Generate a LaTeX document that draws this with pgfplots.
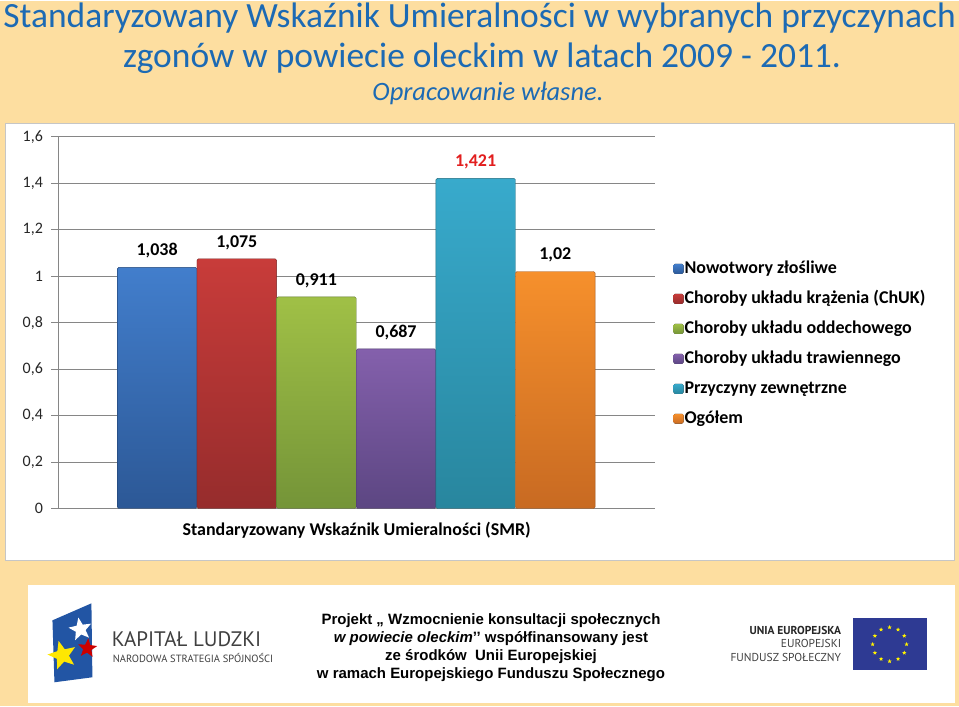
\documentclass[border=0pt]{standalone}
\usepackage{pgfplots}
\pgfplotsset{compat=1.18}
\usepackage{fontspec}
\setmainfont{Carlito}
\newfontfamily\arial{Liberation Sans}
\newfontfamily\opensans{PT Sans}
\usetikzlibrary{shapes.geometric}

\definecolor{bg}{RGB}{253,222,160}
\definecolor{titleblue}{RGB}{28,106,180}
\definecolor{gridgray}{RGB}{134,134,134}
\definecolor{b1t}{RGB}{66,126,204}\definecolor{b1b}{RGB}{44,88,150}
\definecolor{b2t}{RGB}{200,60,58}\definecolor{b2b}{RGB}{150,44,44}
\definecolor{b3t}{RGB}{160,192,70}\definecolor{b3b}{RGB}{116,148,56}
\definecolor{b4t}{RGB}{132,96,172}\definecolor{b4b}{RGB}{92,70,130}
\definecolor{b5t}{RGB}{56,170,204}\definecolor{b5b}{RGB}{40,134,158}
\definecolor{b6t}{RGB}{246,144,44}\definecolor{b6b}{RGB}{200,106,34}
\definecolor{eublue}{RGB}{46,58,147}
\definecolor{klblue}{RGB}{34,85,164}
\definecolor{labelred}{RGB}{226,30,30}

\begin{document}
\begin{tikzpicture}[x=1pt,y=1pt]
% background and panels
\fill[bg] (0,0) rectangle (959,706);
\fill[white,draw=gray!45] (5,146) rectangle (955,584);
\fill[white] (28,3) rectangle (955,121);

% title
\node[anchor=base,text=titleblue,font=\fontsize{35.5}{35.5}\selectfont] at (479.5,679)
  {Standaryzowany Wskaźnik Umieralności w wybranych przyczynach};
\node[anchor=base,text=titleblue,font=\fontsize{35.5}{35.5}\selectfont] at (482,639)
  {zgonów w powiecie oleckim w latach 2009 - 2011.};
\node[anchor=base,text=titleblue,font=\itshape\fontsize{26.5}{26.5}\selectfont] at (488,606)
  {Opracowanie własne.};

\begin{axis}[
  at={(58pt,198pt)}, anchor=south west,
  scale only axis, width=597pt, height=372pt,
  xmin=-0.24, xmax=7.25, ymin=0, ymax=1.6,
  axis x line*=bottom, axis y line*=left,
  axis line style={draw=gridgray, line width=0.7pt, -},
  ymajorgrids, grid style={gridgray, line width=0.7pt},
  xtick=\empty,
  ytick={0,0.2,0.4,0.6,0.8,1,1.2,1.4,1.6},
  tick align=outside, major tick length=7pt,
  ytick style={gridgray, line width=0.7pt},
  yticklabel style={font=\fontsize{16}{16}\selectfont, text=black!85, xshift=-5pt},
  /pgf/number format/use comma,
  /pgf/number format/fixed,
  /pgf/number format/precision=3,
  /pgf/number format/assume math mode=true,
  ybar, bar width=79.7pt, bar shift=0pt,
  nodes near coords,
  every node near coord/.append style={font=\bfseries\fontsize{18}{18}\selectfont,
    text=black, inner sep=2pt, yshift=7pt},
  xlabel={\bfseries Standaryzowany Wskaźnik Umieralności (SMR)},
  xlabel style={font=\fontsize{18}{18}\selectfont, yshift=-3pt},
  legend image code/.code={\fill[#1,draw=none] (0pt,-5pt) rectangle (10pt,5pt);},
  legend style={at={(axis description cs:1.031,0.668)}, anchor=north west,
    draw=none, fill=none, font=\bfseries\fontsize{18}{18}\selectfont,
    row sep=13pt, inner sep=0pt,
    nodes={text height=12pt, text depth=3pt, inner sep=1pt},
    /tikz/every even column/.style={column sep=2pt}},
  legend cell align=left,
]
\addplot[draw=b1b!80!black, top color=b1t, bottom color=b1b, rounded corners=1.5pt] coordinates {(1,1.038)};
\addlegendentry{Nowotwory złośliwe}
\addplot[draw=b2b!80!black, top color=b2t, bottom color=b2b, rounded corners=1.5pt] coordinates {(2,1.075)};
\addlegendentry{Choroby układu krążenia (ChUK)}
\addplot[draw=b3b!80!black, top color=b3t, bottom color=b3b, rounded corners=1.5pt] coordinates {(3,0.911)};
\addlegendentry{Choroby układu oddechowego}
\addplot[draw=b4b!80!black, top color=b4t, bottom color=b4b, rounded corners=1.5pt] coordinates {(4,0.687)};
\addlegendentry{Choroby układu trawiennego}
\addplot[draw=b5b!80!black, top color=b5t, bottom color=b5b, rounded corners=1.5pt,
  every node near coord/.append style={text=labelred}] coordinates {(5,1.421)};
\addlegendentry{Przyczyny zewnętrzne}
\addplot[draw=b6b!80!black, top color=b6t, bottom color=b6b, rounded corners=1.5pt] coordinates {(6,1.02)};
\addlegendentry{Ogółem}
\end{axis}

% footer: Kapitał Ludzki logo
\fill[klblue] (52,86) -- (91,103) -- (92,29) -- (54,24) -- cycle;
\node[star,star points=5,star point ratio=2.3,fill=white,inner sep=0pt,minimum size=24pt,rotate=10] at (80,77) {};
\node[star,star points=5,star point ratio=2.3,fill=red!80!black,inner sep=0pt,minimum size=20pt,rotate=-5] at (87,58) {};
\node[star,star points=5,star point ratio=2.3,fill=yellow!90!orange,inner sep=0pt,minimum size=30pt,rotate=15] at (62,51) {};
\node[anchor=base west,text=black!75,font=\opensans\fontsize{21}{21}\selectfont] at (108,60) {KAPITAŁ LUDZKI};
\node[anchor=base west,text=black!75,font=\opensans\fontsize{10.5}{10.5}\selectfont] at (109,44) {NARODOWA STRATEGIA SPÓJNOŚCI};

% footer text
\node[anchor=base,font=\arial\bfseries\fontsize{15}{15}\selectfont] at (491,82) {Projekt „ Wzmocnienie konsultacji społecznych};
\node[anchor=base,font=\arial\bfseries\fontsize{15}{15}\selectfont] at (491,64) {\itshape w powiecie oleckim\upshape’’ współfinansowany jest};
\node[anchor=base,font=\arial\bfseries\fontsize{15}{15}\selectfont] at (491,46) {ze środków\ \ Unii Europejskiej};
\node[anchor=base,font=\arial\bfseries\fontsize{15}{15}\selectfont] at (491,28) {w ramach Europejskiego Funduszu Społecznego};

% footer: EU logo
\node[anchor=base east,font=\opensans\bfseries\fontsize{11.5}{11.5}\selectfont,text=black!85] at (845,72) {UNIA EUROPEJSKA};
\node[anchor=base east,font=\opensans\fontsize{11.5}{11.5}\selectfont,text=black!75] at (845,59) {EUROPEJSKI};
\node[anchor=base east,font=\opensans\fontsize{11.5}{11.5}\selectfont,text=black!75] at (845,45) {FUNDUSZ SPOŁECZNY};
\fill[eublue] (853,36) rectangle (927,88);
\foreach \a in {0,30,...,330}
  \node[star,star points=5,star point ratio=2.3,fill=yellow,inner sep=0pt,minimum size=4.5pt] at ({890+17*cos(\a)},{62+17*sin(\a)}) {};
\end{tikzpicture}
\end{document}
